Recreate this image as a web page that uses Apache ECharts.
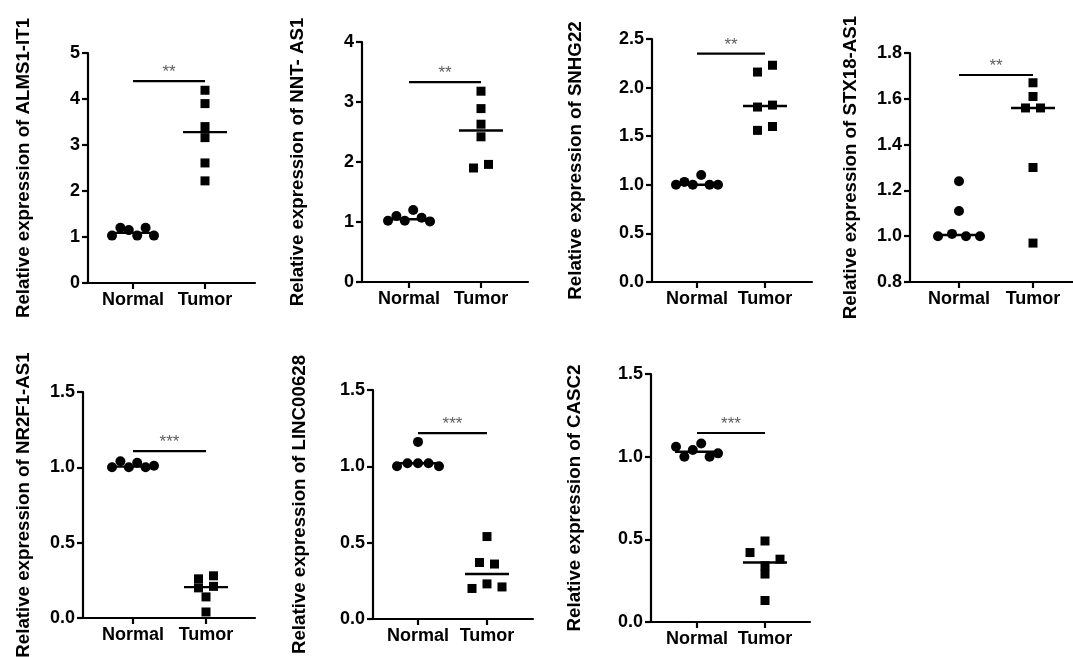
<!DOCTYPE html>
<html><head><meta charset="utf-8">
<script src="https://cdn.jsdelivr.net/npm/echarts@6/dist/echarts.min.js"></script>
<style>html,body{margin:0;padding:0;background:#fff}#c{width:1073px;height:657px}</style>
</head><body><div id="c"></div>
<script>
// ---------- data ----------
const groups = ['Normal', 'Tumor'];
const genes = ['ALMS1-IT1', 'NNT- AS1', 'SNHG22', 'STX18-AS1', 'NR2F1-AS1', 'LINC00628', 'CASC2'];

const normalALMS1 = [1.03, 1.20, 1.15, 1.03, 1.20, 1.03];
const tumorALMS1  = [4.19, 3.90, 3.40, 3.16, 2.61, 2.22];
const normalNNT   = [1.02, 1.10, 1.02, 1.20, 1.07, 1.01];
const tumorNNT    = [3.18, 2.89, 2.63, 2.42, 1.90, 1.96];
const normalSNHG22 = [1.00, 1.03, 1.00, 1.10, 1.00, 1.00];
const tumorSNHG22  = [2.16, 2.23, 1.80, 1.82, 1.56, 1.60];
const normalSTX18 = [1.24, 1.11, 1.00, 1.01, 1.00, 1.00];
const tumorSTX18  = [1.67, 1.61, 1.56, 1.56, 1.30, 0.97];
const normalNR2F1 = [1.00, 1.04, 1.00, 1.03, 1.00, 1.01];
const tumorNR2F1  = [0.26, 0.28, 0.20, 0.21, 0.14, 0.04];
const normalLINC = [1.00, 1.02, 1.02, 1.16, 1.02, 1.00];
const tumorLINC  = [0.54, 0.37, 0.36, 0.20, 0.23, 0.21];
const normalCASC2 = [1.06, 1.00, 1.04, 1.08, 1.00, 1.02];
const tumorCASC2  = [0.49, 0.42, 0.34, 0.38, 0.29, 0.13];

const normalValues = [normalALMS1, normalNNT, normalSNHG22, normalSTX18, normalNR2F1, normalLINC, normalCASC2];
const tumorValues  = [tumorALMS1, tumorNNT, tumorSNHG22, tumorSTX18, tumorNR2F1, tumorLINC, tumorCASC2];

const sigLabels  = ['**', '**', '**', '**', '***', '***', '***'];
const sigHeights = [4.39, 3.33, 2.35, 1.704, 1.108, 1.218, 1.143];

const yMins      = [0, 0, 0, 0.8, 0, 0, 0];
const yMaxs      = [5, 4, 2.5, 1.8, 1.5, 1.5, 1.5];
const yIntervals = [1, 1, 0.5, 0.2, 0.5, 0.5, 0.5];
const yDecimals  = [0, 0, 1, 1, 1, 1, 1];

// ---------- layout (pixels) ----------
const layout = [
  {left: 88,  n: 133, t: 205, end: 255,  top: 53,  bottom: 283, gap: 55},
  {left: 362, n: 409, t: 481, end: 528,  top: 42,  bottom: 282, gap: 55},
  {left: 652, n: 697, t: 765, end: 812,  top: 39,  bottom: 282, gap: 67},
  {left: 910, n: 959, t: 1033, end: 1073, top: 53, bottom: 282, gap: 50},
  {left: 83,  n: 133, t: 206, end: 255,  top: 392, bottom: 618, gap: 50},
  {left: 373, n: 418, t: 487, end: 533,  top: 390, bottom: 619, gap: 64},
  {left: 651, n: 697, t: 765, end: 810,  top: 374, bottom: 622, gap: 67}
];

const FONT = "'Liberation Sans', Arial, Helvetica, sans-serif";

function median(a) {
  const s = a.slice().sort((x, y) => x - y);
  const m = s.length;
  return m % 2 ? s[(m - 1) / 2] : (s[m / 2 - 1] + s[m / 2]) / 2;
}

// beeswarm-like horizontal spread (pixels) computed from the values
function spread(values, pxPerUnit) {
  const n = values.length;
  const idx = values.map((v, i) => i).sort((a, b) => values[a] - values[b]);
  const clusters = [];
  let cur = [idx[0]];
  for (let k = 1; k < n; k++) {
    if ((values[idx[k]] - values[idx[k - 1]]) * pxPerUnit < 7.2) cur.push(idx[k]);
    else { clusters.push(cur); cur = [idx[k]]; }
  }
  clusters.push(cur);
  const off = new Array(n).fill(0);
  clusters.forEach(c => {
    c.sort((a, b) => a - b);
    const m = c.length;
    if (m < 2) return;
    const step = Math.min(15, 42 / (m - 1));
    c.forEach((id, k) => { off[id] = (k - (m - 1) / 2) * step; });
  });
  return off;
}

const grids = [], xAxes = [], yAxes = [], series = [];

layout.forEach((L, p) => {
  const s = L.t - L.n;
  const xMin = 1 - (L.n - L.left) / s;
  const xMax = 2 + (L.end - L.t) / s;
  const pxPerUnit = (L.bottom - L.top) / (yMaxs[p] - yMins[p]);
  grids.push({left: L.left, top: L.top, width: L.end - L.left, height: L.bottom - L.top,
    containLabel: false, outerBoundsMode: 'none'});
  xAxes.push({
    gridIndex: p, type: 'value', min: xMin, max: xMax,
    axisLine: {show: true, onZero: false, lineStyle: {color: '#000', width: 2.2}},
    axisTick: {show: true, customValues: [1, 2], length: 6, lineStyle: {color: '#000', width: 2.2}},
    axisLabel: {show: true, customValues: [1, 2], margin: 8, color: '#000', fontWeight: 'bold', fontSize: 18, fontFamily: FONT,
      formatter: v => groups[Math.round(v) - 1] || ''},
    splitLine: {show: false}
  });
  yAxes.push({
    gridIndex: p, type: 'value', min: yMins[p], max: yMaxs[p], interval: yIntervals[p],
    name: 'Relative expression of ' + genes[p], nameLocation: 'middle', nameGap: L.gap,
    nameTextStyle: {color: '#000', fontWeight: 'bold', fontSize: 18.7, fontFamily: FONT},
    axisLine: {show: true, onZero: false, lineStyle: {color: '#000', width: 2.2}},
    axisTick: {show: true, length: 6, lineStyle: {color: '#000', width: 2.2}},
    axisLabel: {margin: 8, color: '#000', fontWeight: 'bold', fontSize: 18, fontFamily: FONT,
      formatter: v => Number(v).toFixed(yDecimals[p])},
    splitLine: {show: false}
  });

  [normalValues[p], tumorValues[p]].forEach((vals, g) => {
    const off = spread(vals, pxPerUnit);
    const gx = g + 1;
    series.push({
      type: 'scatter', xAxisIndex: p, yAxisIndex: p, silent: true,
      symbol: g === 0 ? 'circle' : 'rect', symbolSize: g === 0 ? 10 : 9,
      itemStyle: {color: '#000', opacity: 1},
      data: vals.map((v, i) => [gx + off[i] / s, v])
    });
    const med = median(vals);
    const h = 22 / s;
    series.push({
      type: 'line', xAxisIndex: p, yAxisIndex: p, silent: true, symbol: 'none',
      lineStyle: {color: '#000', width: 2.4}, data: [[gx - h, med], [gx + h, med]], z: 3
    });
  });

  series.push({
    type: 'line', xAxisIndex: p, yAxisIndex: p, silent: true, symbol: 'none',
    lineStyle: {color: '#000', width: 2.2}, data: [[1, sigHeights[p]], [2, sigHeights[p]]]
  });
  series.push({
    type: 'scatter', xAxisIndex: p, yAxisIndex: p, silent: true, symbolSize: 0,
    data: [[1.5, sigHeights[p]]],
    label: {show: true, position: 'top', distance: 0, formatter: sigLabels[p],
      color: '#333', fontSize: 17, fontFamily: FONT}
  });
});

const chart = echarts.init(document.getElementById('c'), null, {renderer: 'canvas'});
chart.setOption({
  animation: false,
  backgroundColor: '#fff',
  grid: grids, xAxis: xAxes, yAxis: yAxes, series: series
});
</script></body></html>
